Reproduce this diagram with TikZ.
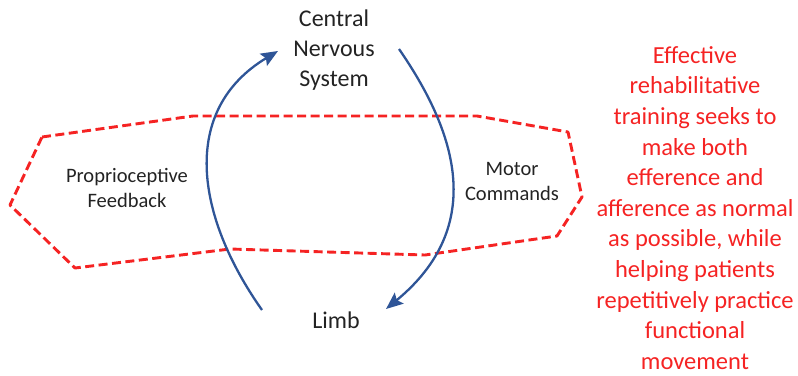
\documentclass[tikz,border=0pt]{standalone}
\usepackage{fontspec}
\setmainfont{Carlito}
\usetikzlibrary{arrows.meta}
\definecolor{arrowblue}{RGB}{47,85,151}
\definecolor{dashred}{RGB}{245,35,35}
\definecolor{txtgray}{RGB}{35,35,35}
\tikzset{
  mainlabel/.style={align=center, text=txtgray, inner sep=0pt, font=\fontsize{24}{30}\selectfont},
  sidelabel/.style={align=center, text=txtgray, inner sep=0pt, font=\fontsize{20.5}{25}\selectfont},
  notetext/.style={align=center, text=dashred, inner sep=0pt, font=\fontsize{24.5}{30.6}\selectfont},
  loop/.style={draw=arrowblue, line width=2.3pt, -{Stealth[length=17pt,width=14pt,inset=3pt]}},
  boundary/.style={draw=dashred, line width=2.9pt, dash pattern=on 9pt off 4.5pt, line join=round}
}
\begin{document}
\begin{tikzpicture}[x=1pt,y=-1pt]
\useasboundingbox (0,0) rectangle (798,375);
% dashed region
\draw[boundary] (42,137) -- (193,116) -- (477,116) -- (568,132) -- (582,197) -- (557,236)
  -- (425,255) -- (230,249) -- (75,268) -- (10,205) -- cycle;
% labels
\node[mainlabel] (cns) at (334,50) {Central\\Nervous\\System};
\node[mainlabel] (limb) at (336,320) {Limb};
\node[sidelabel] (prop) at (127,188) {Proprioceptive\\Feedback};
\node[sidelabel] (motor) at (512,181) {Motor\\Commands};
\node[notetext] (note) at (695,208) {Effective\\rehabilitative\\training seeks to\\make both\\efference and\\afference as normal\\as possible, while\\helping patients\\repetitively practice\\functional\\movement};
% arrow endpoints
\coordinate (lstart) at (262,310);
\coordinate (lend) at (278,51);
\coordinate (rstart) at (399,49);
\coordinate (rend) at (386,309);
\draw[loop] (lstart) .. controls (195,215) and (180,110) .. (lend);
\draw[loop] (rstart) .. controls (455,130) and (488,225) .. (rend);
\end{tikzpicture}
\end{document}
